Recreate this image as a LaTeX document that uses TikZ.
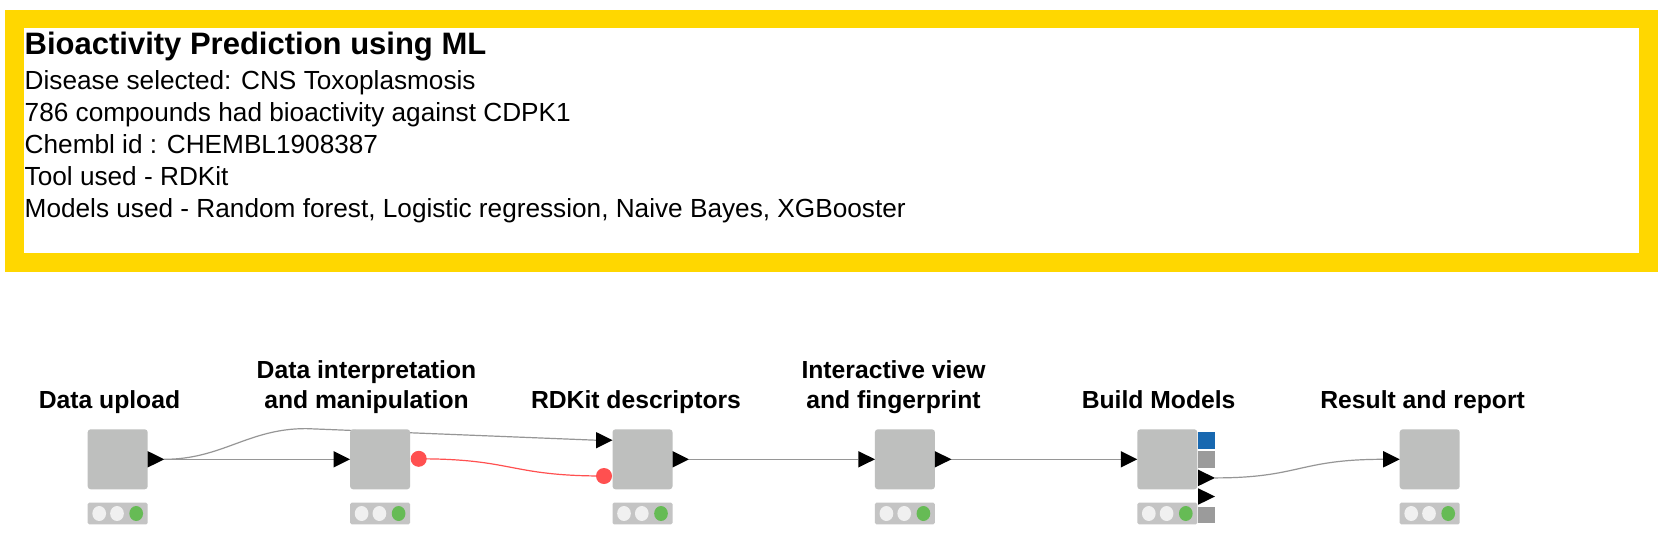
\documentclass[tikz,border=0pt]{standalone}
\usepackage{fontspec}
\setmainfont{Liberation Sans}
\usetikzlibrary{shapes.geometric,backgrounds}
\definecolor{kyellow}{RGB}{255,215,0}
\definecolor{kboxgrey}{RGB}{190,191,190}
\definecolor{kbargrey}{RGB}{196,196,196}
\definecolor{klight}{RGB}{240,240,240}
\definecolor{kgreen}{RGB}{102,187,85}
\definecolor{kblue}{RGB}{24,104,176}
\definecolor{kportgrey}{RGB}{155,155,155}
\definecolor{kwire}{RGB}{150,150,150}
\definecolor{kred}{RGB}{255,80,80}
\newcommand\KNode[2]{%
  \begin{scope}[shift={(#2,459.3)}]
    \node[kbox] (#1) at (0,0) {};
    \node[kbar] (#1-bar) at (0,54.2) {};
    \node[kdot] (#1-d1) at (-18.5,54.2) {};
    \node[kdot] (#1-d2) at (-0.7,54.2) {};
    \node[kdot,fill=kgreen] (#1-d3) at (18.5,54.2) {};
  \end{scope}}
\newcommand\KIn[3]{% name, center x, dy
  \begin{scope}[shift={(#2,459.3)}]
    \fill[black] (-46.5,#3-8.2) -- (-30,#3) -- (-46.5,#3+8.2) -- cycle;
    \coordinate (#1) at (-46.5,#3);
  \end{scope}}
\newcommand\KOut[3]{% name, center x, dy
  \begin{scope}[shift={(#2,459.3)}]
    \fill[black] (30,#3-8.2) -- (46.5,#3) -- (30,#3+8.2) -- cycle;
    \coordinate (#1) at (46.5,#3);
  \end{scope}}
\begin{document}
\begin{tikzpicture}[x=1pt,y=-1pt,
  kbox/.style={fill=kboxgrey, rounded corners=3pt, minimum width=60pt, minimum height=60pt, inner sep=0, outer sep=0},
  kbar/.style={fill=kbargrey, rounded corners=1.5pt, minimum width=60pt, minimum height=21.6pt, inner sep=0, outer sep=0},
  kdot/.style={ellipse, fill=klight, minimum width=13.7pt, minimum height=15pt, inner sep=0},
  kport/.style={minimum size=16.7pt, inner sep=0, outer sep=0},
  kcirc/.style={circle, fill=kred, minimum size=16pt, inner sep=0},
  txt/.style={anchor=base west, inner sep=0, font=\fontsize{26.2}{32}\selectfont},
  ttl/.style={anchor=base west, inner sep=0, font=\bfseries\fontsize{31}{36}\selectfont},
  lbl/.style={anchor=south, inner sep=0, text depth=0pt, align=center, font=\bfseries\fontsize{24.7}{30}\selectfont},
  wire/.style={draw=kwire, line width=1.2pt},
  rwire/.style={draw=kred, line width=1.2pt}]
\useasboundingbox (0,0) rectangle (1669,544);
\begin{pgfonlayer}{background}
  \fill[white] (0,0) rectangle (1669,544);
\end{pgfonlayer}

% annotation frame
\node[draw=kyellow, line width=18.5pt, minimum width=1634pt, minimum height=243.3pt,
      inner sep=0, outer sep=0, anchor=north west] (frame) at (14.3,19.2) {};
\node[ttl] (title) at (24.5,54) {Bioactivity Prediction using ML};
\node[txt] (l1) at (24.5,89) {Disease selected: CNS Toxoplasmosis};
\node[txt] (l2) at (24.5,121.2) {786 compounds had bioactivity against CDPK1};
\node[txt] (l3) at (24.5,153.4) {Chembl id : CHEMBL1908387};
\node[txt] (l4) at (24.5,185.6) {Tool used - RDKit};
\node[txt] (l5) at (24.5,217.8) {Models used - Random forest, Logistic regression, Naive Bayes, XGBooster};

% workflow nodes
\KNode{n1}{117.7}
\KNode{n2}{380.1}
\KNode{n3}{642.5}
\KNode{n4}{904.9}
\KNode{n5}{1167.3}
\KNode{n6}{1429.7}

% labels
\node[lbl] (t1) at (109.5,408.5) {Data upload};
\node[lbl] (t2) at (366.5,408.5) {Data interpretation\\and manipulation};
\node[lbl] (t3) at (636,408.5) {RDKit descriptors};
\node[lbl] (t4) at (893.5,408.5) {Interactive view\\and fingerprint};
\node[lbl] (t5) at (1158.6,408.5) {Build Models};
\node[lbl] (t6) at (1422.6,408.5) {Result and report};

% ports
\KOut{n1-out}{117.7}{0}
\KIn{n2-in}{380.1}{0}
\node[kcirc] (n2-r) at (418.7,458.8) {};
\KIn{n3-in}{642.5}{-19.1}
\node[kcirc] (n3-r) at (604,476) {};
\KOut{n3-out}{642.5}{0}
\KIn{n4-in}{904.9}{0}
\KOut{n4-out}{904.9}{0}
\KIn{n5-in}{1167.3}{0}
\begin{scope}[shift={(1167.3,459.3)}]
  \node[kport, fill=kblue] (n5-p1) at (39.3,-18.6) {};
  \node[kport, fill=kportgrey] (n5-p2) at (39.3,0) {};
  \fill[black] (30.9,10.4) -- (47.7,18.6) -- (30.9,26.8) -- cycle;
  \coordinate (n5-o1) at (47.7,18.6);
  \fill[black] (30.9,29) -- (47.7,37.2) -- (30.9,45.4) -- cycle;
  \coordinate (n5-o2) at (47.7,37.2);
  \node[kport, fill=kportgrey] (n5-p5) at (39.3,55.8) {};
\end{scope}
\KIn{n6-in}{1429.7}{0}
\coordinate (peak) at (306,428.6);

% connections
\begin{pgfonlayer}{background}
  \draw[wire] (n1-out) -- (n2-in);
  \draw[wire] (n1-out) .. controls +(58,0) and +(-58,0) .. (peak) -- (n3-in);
  \draw[rwire] (n2-r.center) .. controls +(95,0) and +(-95,0) .. (n3-r.center);
  \draw[wire] (n3-out) -- (n4-in);
  \draw[wire] (n4-out) -- (n5-in);
  \draw[wire] (n5-o1) .. controls +(85,0) and +(-85,0) .. (n6-in);
\end{pgfonlayer}
\end{tikzpicture}
\end{document}
